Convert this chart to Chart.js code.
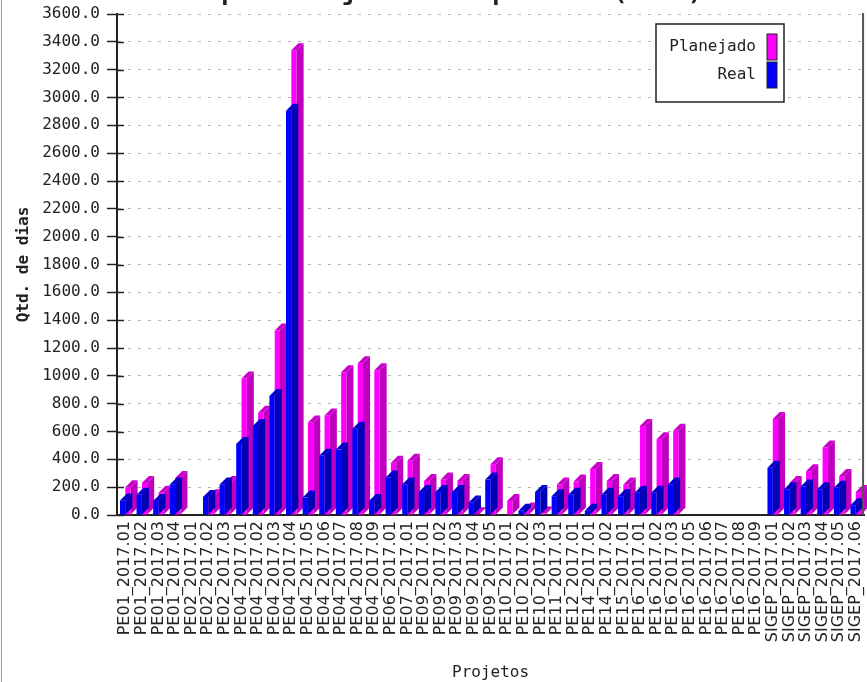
<!DOCTYPE html>
<html>
<head>
<meta charset="utf-8">
<script src="https://cdn.jsdelivr.net/npm/chart.js@4/dist/chart.umd.min.js"></script>
<style>
  html, body { margin: 0; padding: 0; background: #fff; overflow: hidden; }
  #wrap { position: absolute; left: 0; top: -22px; width: 881px; height: 704px; }
  #edge { position: absolute; left: 1px; top: 0; width: 0; height: 682px; border-left: 1.5px solid #9a9a9a; }
</style>
</head>
<body>
<div id="wrap"><canvas id="myChart" width="881" height="704"></canvas></div>
<div id="edge"></div>
<script>
// categories and values (Qtd. de dias)
const categories = [
  'PE01_2017.01', 'PE01_2017.02', 'PE01_2017.03', 'PE01_2017.04',
  'PE02_2017.01', 'PE02_2017.02', 'PE02_2017.03',
  'PE04_2017.01', 'PE04_2017.02', 'PE04_2017.03', 'PE04_2017.04', 'PE04_2017.05',
  'PE04_2017.06', 'PE04_2017.07', 'PE04_2017.08', 'PE04_2017.09',
  'PE06_2017.01', 'PE07_2017.01',
  'PE09_2017.01', 'PE09_2017.02', 'PE09_2017.03', 'PE09_2017.04', 'PE09_2017.05',
  'PE10_2017.01', 'PE10_2017.02', 'PE10_2017.03',
  'PE11_2017.01', 'PE12_2017.01', 'PE14_2017.01', 'PE14_2017.02', 'PE15_2017.01',
  'PE16_2017.01', 'PE16_2017.02', 'PE16_2017.03', 'PE16_2017.05', 'PE16_2017.06',
  'PE16_2017.07', 'PE16_2017.08', 'PE16_2017.09',
  'SIGEP_2017.01', 'SIGEP_2017.02', 'SIGEP_2017.03', 'SIGEP_2017.04', 'SIGEP_2017.05', 'SIGEP_2017.06'
];

const planejado = [
  200, 230, 160, 265, 0, 135, 230, 980, 735, 1325, 3340, 665, 715, 1025, 1090, 1040,
  375, 390, 245, 255, 245, 5, 365, 100, 40, 10, 220, 240, 330, 245, 220,
  640, 545, 605, 0, 0, 0, 0, 0, 690, 230, 315, 485, 280, 165
];

const real = [
  105, 145, 100, 220, 0, 130, 220, 510, 640, 855, 2905, 125, 425, 470, 620, 100,
  270, 220, 165, 165, 165, 90, 255, 0, 30, 165, 135, 145, 30, 145, 135,
  160, 160, 220, 0, 0, 0, 0, 0, 340, 185, 205, 185, 195, 70
];

const seriesNames = ['Planejado', 'Real'];
const yMax = 3600;
const yStep = 200;

const MONO = 'DejaVu Sans Mono';
const DX = 7, DY = 7; // depth of the fake 3d

// draws the top and side faces of every bar, after the dataset itself
const bar3d = {
  id: 'bar3d',
  afterDatasetDraw(chart, args) {
    const ds = chart.data.datasets[args.index];
    const ctx = chart.ctx;
    ctx.save();
    args.meta.data.forEach((bar, i) => {
      if (!ds.data[i]) return;
      const p = bar.getProps(['x', 'y', 'width', 'base'], true);
      const l = p.x - p.width / 2;
      const r = p.x + p.width / 2;
      ctx.fillStyle = ds.topColor;
      ctx.beginPath();
      ctx.moveTo(l, p.y);
      ctx.lineTo(r, p.y);
      ctx.lineTo(r + DX, p.y - DY);
      ctx.lineTo(l + DX, p.y - DY);
      ctx.closePath();
      ctx.fill();
      ctx.fillStyle = ds.sideColor;
      ctx.beginPath();
      ctx.moveTo(r, p.y);
      ctx.lineTo(r + DX, p.y - DY);
      ctx.lineTo(r + DX, p.base - DY);
      ctx.lineTo(r, p.base);
      ctx.closePath();
      ctx.fill();
    });
    ctx.restore();
  }
};

// inner half of the y tick marks, right plot edge and the legend box
const extras = {
  id: 'extras',
  afterDraw(chart) {
    const ctx = chart.ctx;
    const area = chart.chartArea;
    const yScale = chart.scales.y;
    ctx.save();
    ctx.strokeStyle = '#222';
    ctx.lineWidth = 1.5;
    yScale.ticks.forEach((t) => {
      const y = Math.round(yScale.getPixelForValue(t.value)) + 0.5;
      ctx.beginPath();
      ctx.moveTo(area.left, y);
      ctx.lineTo(area.left + 7, y);
      ctx.stroke();
    });
    ctx.strokeStyle = '#555';
    ctx.lineWidth = 2;
    ctx.beginPath();
    ctx.moveTo(area.right - 1, area.top - 1);
    ctx.lineTo(area.right - 1, area.bottom);
    ctx.stroke();

    // legend
    const bx = 656, by = 46, bw = 128, bh = 78;
    ctx.fillStyle = '#fff';
    ctx.fillRect(bx, by, bw, bh);
    ctx.strokeStyle = '#222';
    ctx.lineWidth = 1.5;
    ctx.strokeRect(bx, by, bw, bh);
    ctx.font = '16px "' + MONO + '"';
    ctx.textAlign = 'right';
    ctx.textBaseline = 'middle';
    chart.data.datasets.forEach((ds, i) => {
      const cy = by + 23 + i * 28;
      ctx.fillStyle = '#222';
      ctx.fillText(ds.label, bx + 100, cy);
      ctx.fillStyle = ds.backgroundColor;
      ctx.fillRect(bx + 111, cy - 13, 10, 26);
      ctx.lineWidth = 1;
      ctx.strokeRect(bx + 111, cy - 13, 10, 26);
    });
    ctx.restore();
  }
};

const ctx = document.getElementById('myChart').getContext('2d');

window.myChartInstance = new Chart(ctx, {
  type: 'bar',
  data: {
    labels: categories,
    datasets: [
      {
        label: seriesNames[0],
        data: planejado,
        backgroundColor: '#ff00ff',
        topColor: '#cc00cc',
        sideColor: '#c000c0',
        borderWidth: 0,
        order: 2,
        categoryPercentage: 0.64,
        barPercentage: 1.0
      },
      {
        label: seriesNames[1],
        data: real,
        backgroundColor: '#0000ff',
        topColor: '#0000cc',
        sideColor: '#0000b4',
        borderWidth: 0,
        order: 1,
        categoryPercentage: 0.64,
        barPercentage: 1.0
      }
    ]
  },
  options: {
    responsive: false,
    animation: false,
    layout: { padding: { left: 0, right: 2, top: 0, bottom: 0 } },
    plugins: {
      legend: { display: false },
      tooltip: { enabled: false },
      title: {
        display: true,
        text: 'Tempo Planejado X Tempo Real (2017)',
        color: '#222',
        font: { family: MONO, size: 25, weight: 'bold' },
        padding: { top: 0, bottom: 6 }
      }
    },
    scales: {
      x: {
        grid: { display: false, drawTicks: false },
        border: { display: true, color: '#222', width: 2 },
        ticks: {
          autoSkip: false,
          maxRotation: 90,
          minRotation: 90,
          padding: 6,
          color: '#222',
          font: { family: 'DejaVu Sans', size: 16 }
        },
        title: {
          display: true,
          text: 'Projetos',
          color: '#222',
          font: { family: MONO, size: 16 },
          padding: { top: 0, bottom: 0 }
        },
        afterFit(scale) { scale.height = 167; }
      },
      y: {
        min: 0,
        max: yMax,
        ticks: {
          stepSize: yStep,
          padding: 7,
          color: '#222',
          font: { family: MONO, size: 16 },
          callback: (v) => Number(v).toFixed(1)
        },
        grid: {
          color: '#b4b4b4',
          lineWidth: 1,
          tickColor: '#222',
          tickLength: 10,
          tickWidth: 1.5,
          tickBorderDash: []
        },
        border: { display: true, color: '#222', width: 2, dash: [3, 7] },
        title: {
          display: true,
          text: 'Qtd. de dias',
          color: '#222',
          font: { family: MONO, size: 16, weight: 'bold' },
          padding: { top: 14, bottom: 0 }
        },
        afterFit(scale) { scale.width = 117; }
      }
    }
  },
  plugins: [bar3d, extras]
});
</script>
</body>
</html>
